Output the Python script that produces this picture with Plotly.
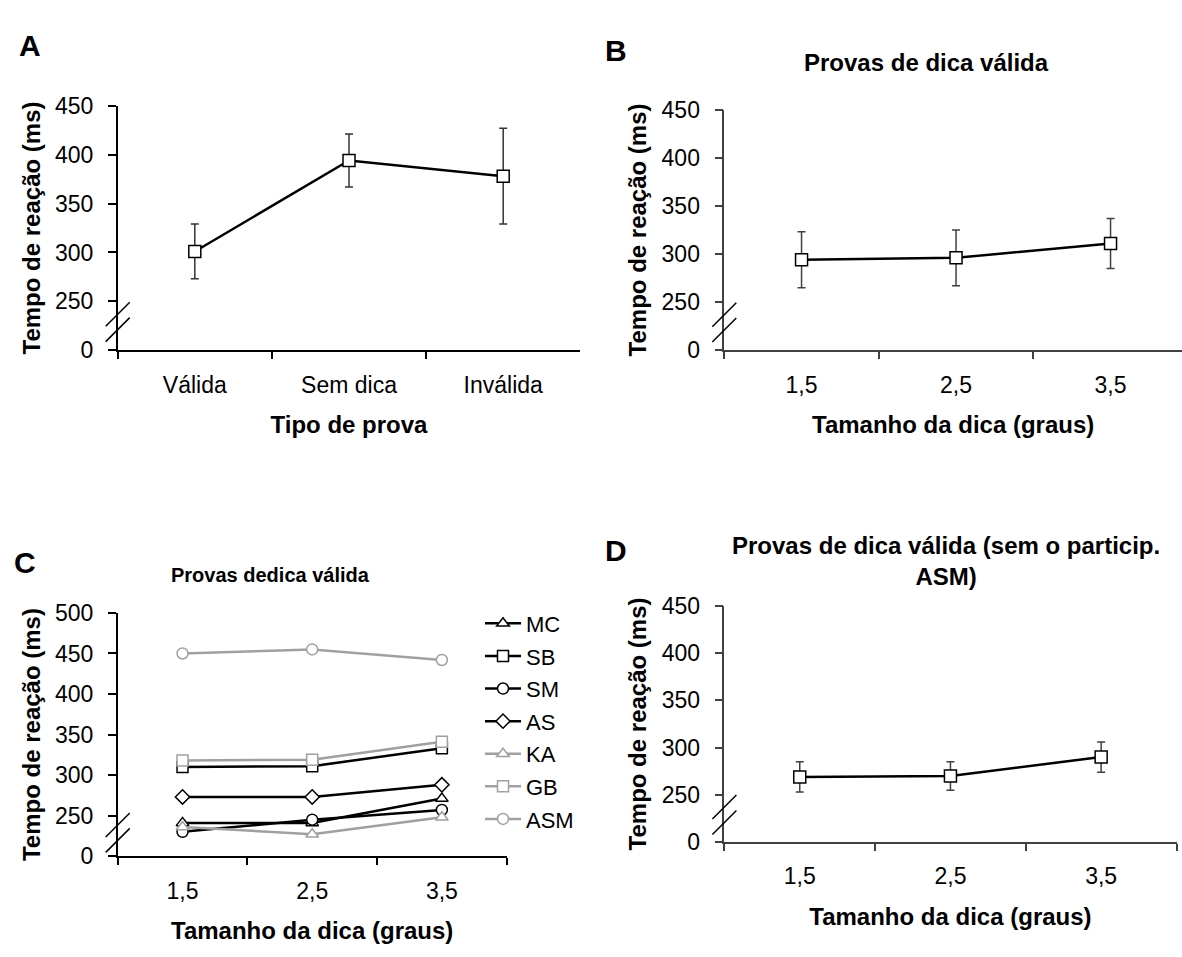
import plotly.graph_objects as go

# ---------------- data ----------------
a_categories = ["Válida", "Sem dica", "Inválida"]
a_values = [301, 394, 378]
a_errors = [28, 27, 49]

cue_sizes = ["1,5", "2,5", "3,5"]

b_values = [294, 296, 311]
b_errors = [29, 29, 26]

c_participants = ["MC", "SB", "SM", "AS", "KA", "GB", "ASM"]
c_mc = [241, 241, 271]
c_sb = [310, 311, 333]
c_sm = [230, 245, 257]
c_as = [273, 273, 288]
c_ka = [236, 227, 248]
c_gb = [318, 319, 341]
c_asm = [450, 455, 442]
c_series = [c_mc, c_sb, c_sm, c_as, c_ka, c_gb, c_asm]
c_symbols = ["triangle-up", "square", "circle", "diamond", "triangle-up", "square", "circle"]
c_colors = ["#000000"] * 4 + ["#a0a0a0"] * 3

d_values = [269, 270, 290]
d_errors = [16, 15, 16]

y_ticks_450 = [200, 250, 300, 350, 400, 450]
y_ticktext_450 = ["0", "250", "300", "350", "400", "450"]
y_ticks_500 = [200, 250, 300, 350, 400, 450, 500]
y_ticktext_500 = ["0", "250", "300", "350", "400", "450", "500"]

titles = {
    "B": "Provas de dica válida",
    "C": "Provas dedica válida",
    "D": "Provas de dica válida (sem o particip.<br>ASM)",
}
y_title = "Tempo de reação (ms)"
x_title_a = "Tipo de prova"
x_title_cue = "Tamanho da dica (graus)"

# ---------------- layout helpers ----------------
W, H = 1182, 957
FONT = "Arial, Liberation Sans, sans-serif"


def px_x(v):
    return v / W


def px_y(v):
    return 1 - v / H


fig = go.Figure()

# Panel A
fig.add_trace(go.Scatter(
    x=a_categories, y=a_values, mode="lines+markers",
    line=dict(color="black", width=2.5),
    marker=dict(symbol="square", size=12, color="white", line=dict(color="black", width=1.5)),
    error_y=dict(type="data", array=a_errors, color="#333333", thickness=1.5, width=4),
    xaxis="x", yaxis="y", showlegend=False))

# Panel B
fig.add_trace(go.Scatter(
    x=cue_sizes, y=b_values, mode="lines+markers",
    line=dict(color="black", width=2.5),
    marker=dict(symbol="square", size=12, color="white", line=dict(color="black", width=1.5)),
    error_y=dict(type="data", array=b_errors, color="#404040", thickness=1.5, width=4),
    xaxis="x2", yaxis="y2", showlegend=False))

# Panel C
for name, vals, sym, col in zip(c_participants, c_series, c_symbols, c_colors):
    fig.add_trace(go.Scatter(
        x=cue_sizes, y=vals, mode="lines+markers", name=name, legendgroup=name,
        line=dict(color=col, width=2.5),
        marker=dict(symbol=sym, size=11, color="white", line=dict(color=col, width=1.5)),
        xaxis="x3", yaxis="y3", showlegend=True))

# Panel D
fig.add_trace(go.Scatter(
    x=cue_sizes, y=d_values, mode="lines+markers",
    line=dict(color="black", width=2.5),
    marker=dict(symbol="square", size=12, color="white", line=dict(color="black", width=1.5)),
    error_y=dict(type="data", array=d_errors, color="#404040", thickness=1.5, width=4),
    xaxis="x4", yaxis="y4", showlegend=False))

tickfont = dict(family=FONT, size=23, color="black")
titlefont = dict(family=FONT, size=24, color="black", weight="bold")


def xaxis(domain, rng, linecolor, title, anchor):
    return dict(domain=domain, range=rng, type="category", showline=True, linecolor=linecolor,
                linewidth=1.5, ticks="outside", tickson="boundaries", ticklen=7, tickwidth=1.5,
                tickcolor=linecolor, showgrid=False, zeroline=False, tickfont=tickfont,
                ticklabelstandoff=13, title=dict(text=title, font=titlefont, standoff=20),
                anchor=anchor, fixedrange=True)


def yaxis(domain, rng, tv, tt, linecolor, anchor):
    return dict(domain=domain, range=rng, tickvals=tv, ticktext=tt, showline=True,
                linecolor=linecolor, linewidth=1.5, ticks="outside", ticklen=8, tickwidth=1.5,
                tickcolor=linecolor, showgrid=False, zeroline=False, tickfont=tickfont,
                ticklabelstandoff=10, anchor=anchor,
                title=dict(text=y_title, font=titlefont, standoff=8), fixedrange=True)


A_x = [px_x(117.7), px_x(580.3)]
A_y = [px_y(346.7), px_y(95.3)]
B_x = [px_x(724.3), 1.0]
B_y = [px_y(346.7), px_y(99.3)]
C_x = [px_x(117.7), px_x(506.7)]
C_y = [px_y(866.7), px_y(616.7)]
D_x = [px_x(724.4), px_x(1176.5)]
D_y = [px_y(852.3), px_y(609.3)]

b_right = -0.5 + (W - 724.3) / 154.5

fig.update_layout(
    width=W, height=H, margin=dict(l=0, r=0, t=0, b=0),
    paper_bgcolor="white", plot_bgcolor="white",
    font=dict(family=FONT, color="black"),
    xaxis=xaxis(A_x, [-0.5, 2.5], "black", x_title_a, "y"),
    yaxis=yaxis(A_y, [200, 450], y_ticks_450, y_ticktext_450, "black", "x"),
    xaxis2=xaxis(B_x, [-0.5, b_right], "#404040", x_title_cue, "y2"),
    yaxis2=yaxis(B_y, [200, 450], y_ticks_450, y_ticktext_450, "#404040", "x2"),
    xaxis3=xaxis(C_x, [-0.5, 2.5], "black", x_title_cue, "y3"),
    yaxis3=yaxis(C_y, [200, 500], y_ticks_500, y_ticktext_500, "black", "x3"),
    xaxis4=xaxis(D_x, [-0.5, 2.5], "#404040", x_title_cue, "y4"),
    yaxis4=yaxis(D_y, [200, 450], y_ticks_450, y_ticktext_450, "#404040", "x4"),
    legend=dict(x=px_x(480), y=px_y(606), xanchor="left", yanchor="top",
                font=dict(family=FONT, size=22, color="black"), itemwidth=36,
                bgcolor="rgba(0,0,0,0)", traceorder="grouped", tracegroupgap=1),
)

# axis-break marks
for xr, yr in [("x domain", "y"), ("x2 domain", "y2"), ("x3 domain", "y3"), ("x4 domain", "y4")]:
    for off in (7.7, -7.7):
        fig.add_shape(type="line", xref=xr, yref=yr, xsizemode="pixel", ysizemode="pixel",
                      xanchor=0, yanchor=229, x0=-12, x1=12, y0=off - 12, y1=off + 12,
                      line=dict(color="black", width=1.5))

# panel letters and titles
letter_font = dict(family=FONT, size=30, color="black", weight="bold")
title_font_big = dict(family=FONT, size=24, color="black", weight="bold")
title_font_small = dict(family=FONT, size=20, color="black", weight="bold")
ann = [
    dict(text="A", x=px_x(30), y=px_y(33), font=letter_font),
    dict(text="B", x=px_x(616), y=px_y(39), font=letter_font),
    dict(text="C", x=px_x(25), y=px_y(565), font=letter_font),
    dict(text="D", x=px_x(616), y=px_y(553), font=letter_font),
    dict(text=titles["B"], x=px_x(926), y=px_y(51), font=title_font_big),
    dict(text=titles["C"], x=px_x(270), y=px_y(578), font=title_font_small),
    dict(text=titles["D"], x=px_x(946), y=px_y(563), font=title_font_big),
]
for a in ann:
    fig.add_annotation(xref="paper", yref="paper", showarrow=False,
                       xanchor="center", yanchor="middle", **a)

fig.write_html("out.html")
